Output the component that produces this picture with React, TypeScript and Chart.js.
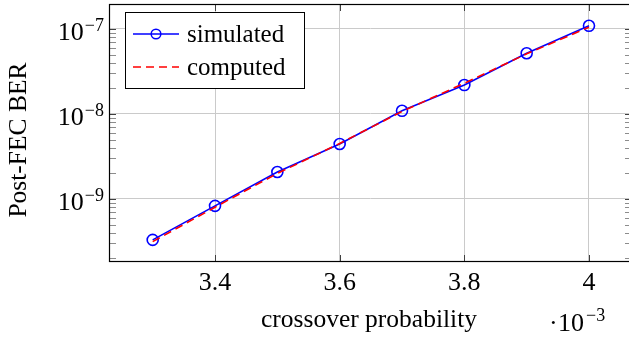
import { useEffect, useRef } from 'react';
import { Chart, registerables } from 'chart.js';

Chart.register(...registerables);

// ---- data (crossover probability in units of 10^-3) ----
const crossover = [3.3, 3.4, 3.5, 3.6, 3.7, 3.8, 3.9, 4.0];
const simulated = [3.3e-10, 8.3e-10, 2.08e-9, 4.44e-9, 1.09e-8, 2.19e-8, 5.18e-8, 1.09e-7];
const computed = [3.15e-10, 8.0e-10, 2.0e-9, 4.5e-9, 1.07e-8, 2.3e-8, 5.1e-8, 1.05e-7];
const xTicks = [3.4, 3.6, 3.8, 4.0];
const xTickLabels = ['3.4', '3.6', '3.8', '4'];
const yTicks = [1e-9, 1e-8, 1e-7];
const yTickExponents = ['−9', '−8', '−7'];
const seriesLabels = ['simulated', 'computed'];
const xTitle = 'crossover probability';
const yTitle = 'Post-FEC BER';
const xMultiplierExponent = '−3';

const SERIF = "'Liberation Serif', 'Times New Roman', serif";
const BLUE = '#0000ff';
const RED = '#ff0000';

const decorPlugin = {
  id: 'decor',
  afterDraw(chart: any) {
    const ctx = chart.ctx as CanvasRenderingContext2D;
    const { left, top, right, bottom } = chart.chartArea;
    const xs = chart.scales.x;
    const ys = chart.scales.y;
    ctx.save();

    // minor / major ticks on y (inside, both sides)
    ctx.lineWidth = 1;
    for (let e = -11; e <= -6; e++) {
      for (let k = 1; k <= 9; k++) {
        const v = k * Math.pow(10, e);
        if (v < ys.min || v > ys.max) continue;
        const py = Math.round(ys.getPixelForValue(v)) + 0.5;
        ctx.strokeStyle = k === 1 ? '#404040' : '#8c8c8c';
        ctx.beginPath();
        ctx.moveTo(left, py);
        ctx.lineTo(left + 7, py);
        ctx.moveTo(right, py);
        ctx.lineTo(right - 7, py);
        ctx.stroke();
      }
    }
    // x ticks (inside, top and bottom)
    ctx.strokeStyle = '#404040';
    for (const t of xTicks) {
      const px = Math.round(xs.getPixelForValue(t)) + 0.5;
      ctx.beginPath();
      ctx.moveTo(px, bottom);
      ctx.lineTo(px, bottom - 7);
      ctx.moveTo(px, top);
      ctx.lineTo(px, top + 7);
      ctx.stroke();
    }

    // frame
    ctx.strokeStyle = '#000';
    ctx.lineWidth = 1.2;
    ctx.strokeRect(left + 0.5, top + 0.5, right - left - 1, bottom - top - 1);

    // x tick labels
    ctx.fillStyle = '#000';
    ctx.textBaseline = 'alphabetic';
    ctx.textAlign = 'center';
    ctx.font = `26px ${SERIF}`;
    xTicks.forEach((t, i) => {
      ctx.fillText(xTickLabels[i], xs.getPixelForValue(t), bottom + 28);
    });

    // y tick labels 10^e
    yTicks.forEach((t, i) => {
      const py = ys.getPixelForValue(t);
      ctx.textAlign = 'right';
      ctx.font = `18px ${SERIF}`;
      const ex = yTickExponents[i];
      const ew = ctx.measureText(ex).width;
      ctx.fillText(ex, left - 5, py + 2);
      ctx.font = `26px ${SERIF}`;
      ctx.fillText('10', left - 6 - ew, py + 11);
    });

    // x multiplier ·10^-3
    ctx.textAlign = 'left';
    ctx.font = `26px ${SERIF}`;
    ctx.fillText('·', 549, 331);
    ctx.fillText('10', 558, 331);
    ctx.font = `18px ${SERIF}`;
    ctx.fillText(xMultiplierExponent, 586, 321);

    // axis titles
    ctx.font = `25.5px ${SERIF}`;
    ctx.textAlign = 'center';
    ctx.fillText(xTitle, (left + 629) / 2, 327);
    ctx.save();
    ctx.translate(26, 140);
    ctx.rotate(-Math.PI / 2);
    ctx.fillText(yTitle, 0, 0);
    ctx.restore();

    // legend
    const lx = 125.5, ly = 12.5, lw = 179, lh = 76;
    ctx.fillStyle = '#fff';
    ctx.fillRect(lx, ly, lw, lh);
    ctx.strokeStyle = '#000';
    ctx.lineWidth = 1;
    ctx.strokeRect(lx, ly, lw, lh);
    // simulated
    ctx.strokeStyle = BLUE;
    ctx.lineWidth = 1.5;
    ctx.beginPath();
    ctx.moveTo(133, 34);
    ctx.lineTo(179, 34);
    ctx.stroke();
    ctx.beginPath();
    ctx.arc(156, 34, 4.8, 0, Math.PI * 2);
    ctx.stroke();
    // computed
    ctx.strokeStyle = RED;
    ctx.setLineDash([8, 5]);
    ctx.beginPath();
    ctx.moveTo(133, 67);
    ctx.lineTo(179, 67);
    ctx.stroke();
    ctx.setLineDash([]);
    ctx.fillStyle = '#000';
    ctx.textAlign = 'left';
    ctx.font = `25px ${SERIF}`;
    ctx.fillText(seriesLabels[0], 187, 42);
    ctx.fillText(seriesLabels[1], 187, 75);

    ctx.restore();
  },
};

export default function App() {
  const ref = useRef<HTMLCanvasElement | null>(null);
  useEffect(() => {
    if (!ref.current) return;
    const chart = new Chart(ref.current, {
      type: 'line',
      data: {
        datasets: [
          {
            label: seriesLabels[0],
            data: crossover.map((x, i) => ({ x, y: simulated[i] })),
            borderColor: BLUE,
            borderWidth: 1.6,
            pointRadius: 5.5,
            pointBorderWidth: 1.6,
            pointBorderColor: BLUE,
            pointBackgroundColor: 'rgba(0,0,0,0)',
            tension: 0,
            order: 1,
          },
          {
            label: seriesLabels[1],
            data: crossover.map((x, i) => ({ x, y: computed[i] })),
            borderColor: RED,
            borderWidth: 1.6,
            borderDash: [8, 5],
            pointRadius: 0,
            tension: 0,
            order: 0,
          },
        ],
      },
      options: {
        animation: false,
        responsive: false,
        devicePixelRatio: 1,
        layout: { autoPadding: false, padding: { top: 4, left: 0, right: 0, bottom: 0 } },
        plugins: { legend: { display: false }, tooltip: { enabled: false } },
        scales: {
          x: {
            type: 'linear',
            min: 3.2299,
            max: 4.069,
            afterBuildTicks: (s: any) => {
              s.ticks = xTicks.map((v) => ({ value: v }));
            },
            afterFit: (s: any) => {
              s.height = 77;
            },
            ticks: { display: false },
            grid: { color: '#cacaca', lineWidth: 1, drawTicks: false },
            border: { display: false },
          },
          y: {
            type: 'logarithmic',
            min: 1.814e-10,
            max: 1.968e-7,
            afterBuildTicks: (s: any) => {
              s.ticks = yTicks.map((v) => ({ value: v, major: true }));
            },
            afterFit: (s: any) => {
              s.width = 109;
            },
            ticks: { display: false },
            grid: { color: '#cacaca', lineWidth: 1, drawTicks: false },
            border: { display: false },
          },
        },
      },
      plugins: [decorPlugin],
    });
    return () => chart.destroy();
  }, []);
  return (
    <div
      style={{
        position: 'absolute',
        left: 0,
        top: 0,
        width: 629,
        height: 339,
        overflow: 'hidden',
        background: '#fff',
      }}
    >
      <canvas ref={ref} width={632} height={339} style={{ display: 'block' }} />
    </div>
  );
}
